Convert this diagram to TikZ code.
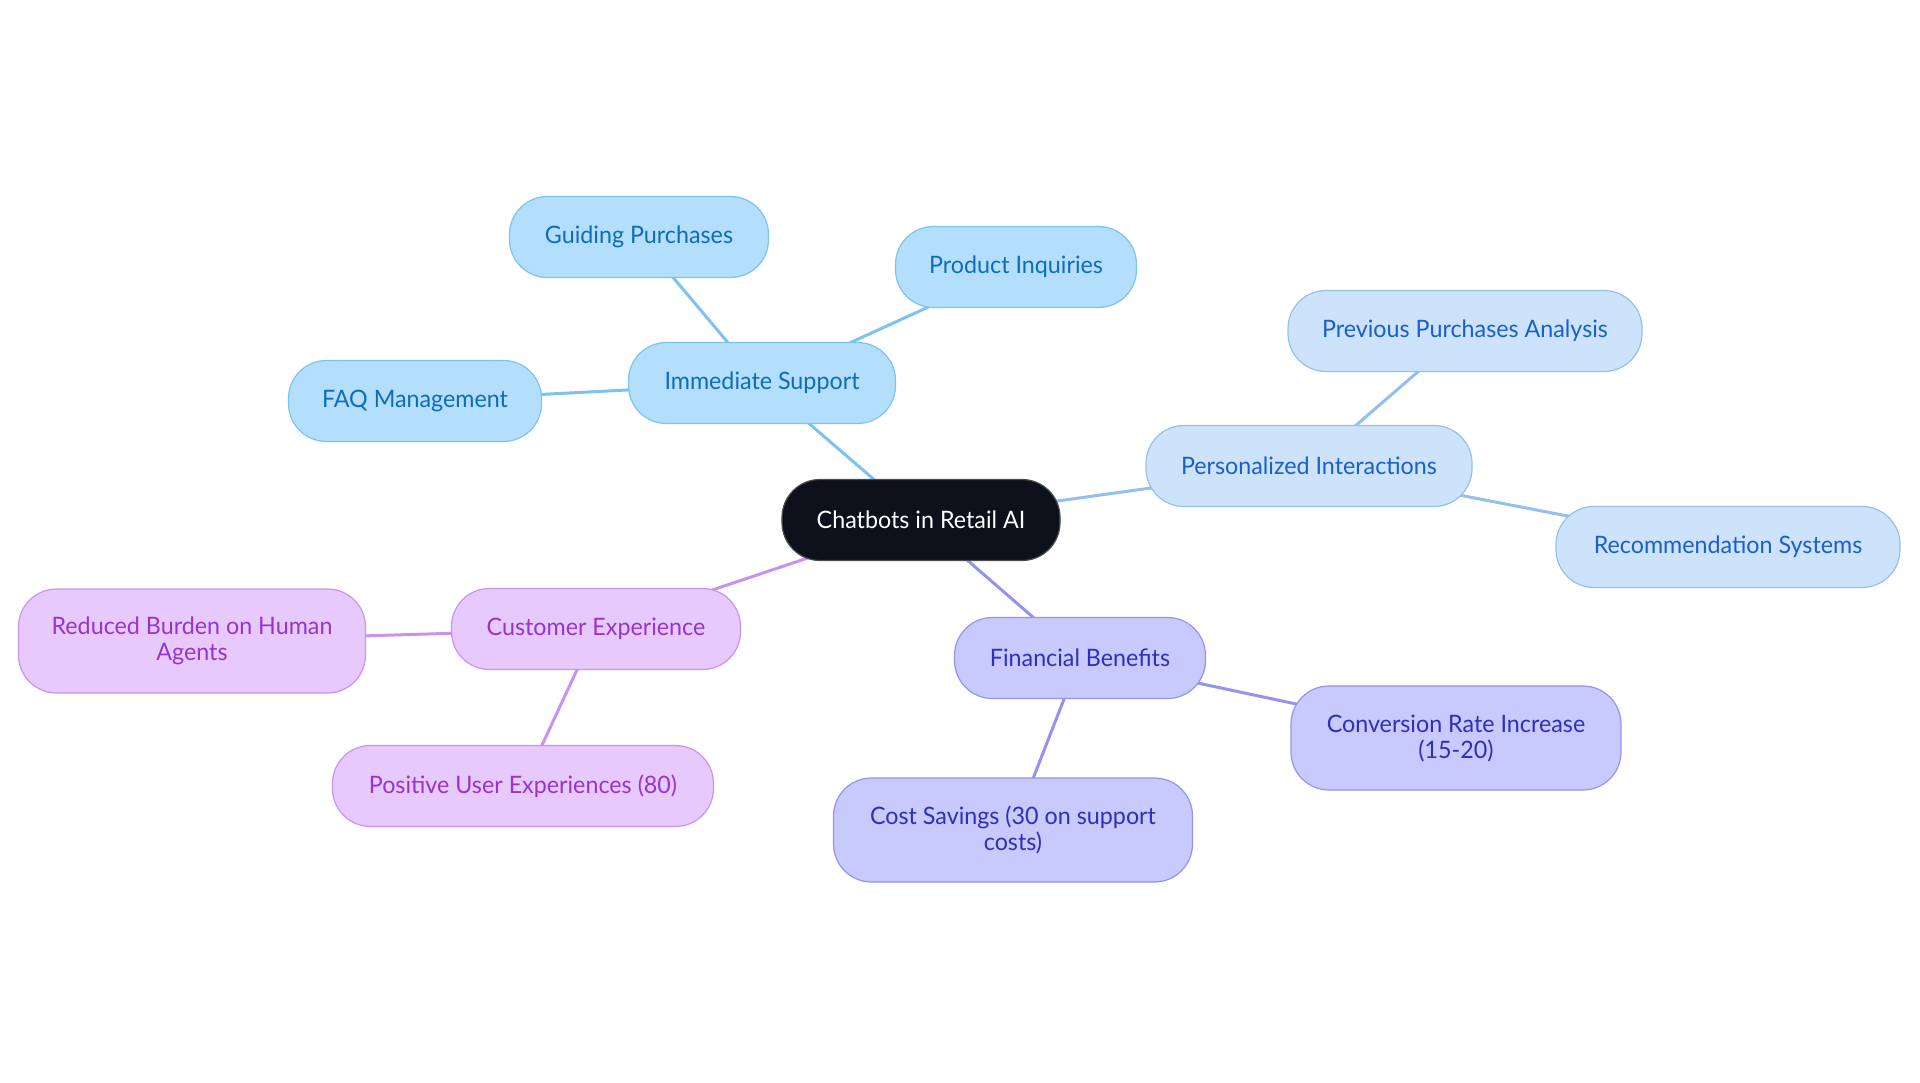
\documentclass[tikz,border=0pt]{standalone}
\usepackage{fontspec}
\setmainfont[FakeStretch=0.97]{Lato}
\usetikzlibrary{backgrounds}

\definecolor{rootfill}{HTML}{0C111B}
\definecolor{supfill}{HTML}{B3DFFD}
\definecolor{supdraw}{HTML}{7DC2F0}
\definecolor{suptext}{HTML}{0F6CBD}
\definecolor{persfill}{HTML}{CDE3FB}
\definecolor{persdraw}{HTML}{94BFEF}
\definecolor{perstext}{HTML}{1A5FCC}
\definecolor{finfill}{HTML}{C8C9FC}
\definecolor{findraw}{HTML}{9494F0}
\definecolor{fintext}{HTML}{2E2EC0}
\definecolor{cxfill}{HTML}{E8C9FD}
\definecolor{cxdraw}{HTML}{C892F2}
\definecolor{cxtext}{HTML}{9535D0}

\begin{document}
\begin{tikzpicture}[x=1pt, y=-1pt,
    main node/.style={draw, line width=1.2pt, rounded corners=38pt, inner sep=0pt, minimum height=81pt, align=center, font=\fontsize{24}{26}\selectfont},
    two lines/.style={minimum height=104pt},
    sup node/.style={main node, fill=supfill, draw=supdraw, text=suptext},
    pers node/.style={main node, fill=persfill, draw=persdraw, text=perstext},
    fin node/.style={main node, fill=finfill, draw=findraw, text=fintext},
    cx node/.style={main node, fill=cxfill, draw=cxdraw, text=cxtext},
    link/.style={line width=3pt}]
    \useasboundingbox (0,0) rectangle (1920,1083);

    % racine
    \node[main node, fill=rootfill, draw=black!70, text=white, minimum width=278pt] (root) at (921,520) {Chatbots in Retail AI};

    % immediate support
    \node[sup node, minimum width=267pt] (sup) at (762,383) {Immediate Support};
    \node[sup node, minimum width=259pt] (guide) at (639,237) {Guiding Purchases};
    \node[sup node, minimum width=241pt] (inq) at (1016,267) {Product Inquiries};
    \node[sup node, minimum width=253pt] (faq) at (415,401) {FAQ Management};

    % personalized interactions
    \node[pers node, minimum width=326pt] (pers) at (1309,466) {Personalized Interactions};
    \node[pers node, minimum width=354pt] (prev) at (1465,331) {Previous Purchases Analysis};
    \node[pers node, minimum width=344pt] (reco) at (1728,547) {Recommendation Systems};

    % financial benefits
    \node[fin node, minimum width=251pt] (fin) at (1080,658) {Financial Benefits};
    \node[fin node, two lines, minimum width=330pt] (conv) at (1456,738) {Conversion Rate Increase\\(15-20)};
    \node[fin node, two lines, minimum width=359pt] (cost) at (1013,830) {Cost Savings (30 on support\\costs)};

    % customer experience
    \node[cx node, minimum width=289pt] (cx) at (596,629) {Customer Experience};
    \node[cx node, two lines, minimum width=347pt] (burden) at (192,641) {Reduced Burden on Human\\Agents};
    \node[cx node, minimum width=381pt] (pos) at (523,786) {Positive User Experiences (80)};

    \begin{pgfonlayer}{background}
        \draw[link, draw=supdraw] (root.center) -- (sup.center);
        \draw[link, draw=supdraw] (sup.center) -- (guide.center);
        \draw[link, draw=supdraw] (sup.center) -- (inq.center);
        \draw[link, draw=supdraw] (sup.center) -- (faq.center);

        \draw[link, draw=persdraw] (root.center) -- (pers.center);
        \draw[link, draw=persdraw] (pers.center) -- (prev.center);
        \draw[link, draw=persdraw] (pers.center) -- (reco.center);

        \draw[link, draw=findraw] (root.center) -- (fin.center);
        \draw[link, draw=findraw] (fin.center) -- (conv.center);
        \draw[link, draw=findraw] (fin.center) -- (cost.center);

        \draw[link, draw=cxdraw] (root.center) -- (cx.center);
        \draw[link, draw=cxdraw] (cx.center) -- (burden.center);
        \draw[link, draw=cxdraw] (cx.center) -- (pos.center);
    \end{pgfonlayer}
\end{tikzpicture}
\end{document}
